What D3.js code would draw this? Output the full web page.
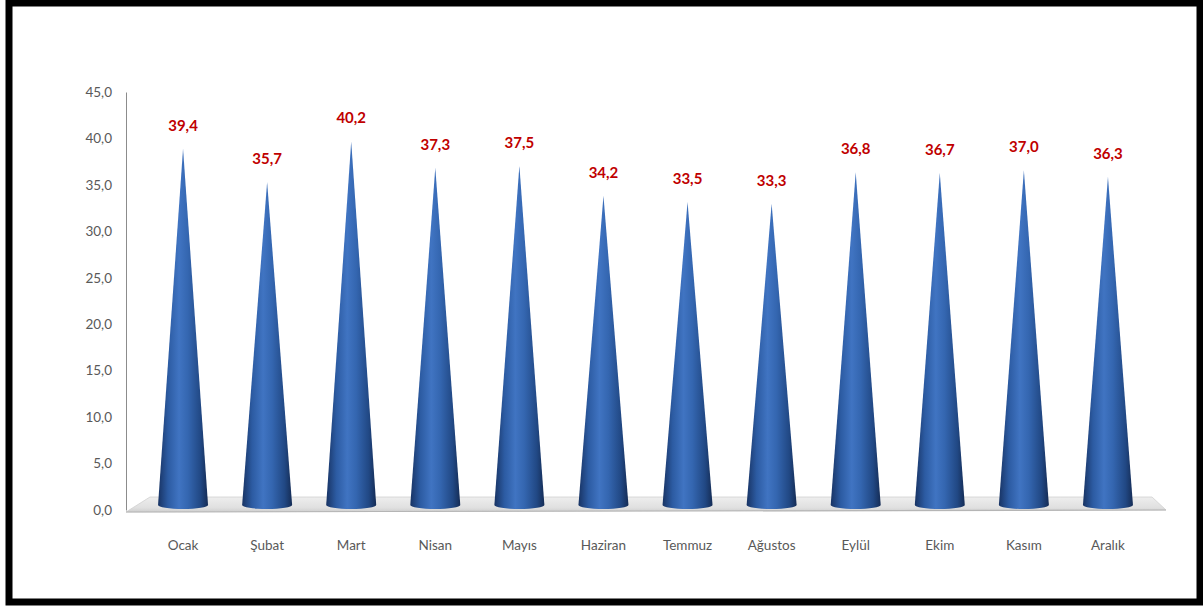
<!DOCTYPE html>
<html><head><meta charset="utf-8">
<script src="https://cdn.jsdelivr.net/npm/d3@7"></script>
<style>body{margin:0;background:#fff}svg{display:block}</style>
</head><body>
<svg id="c" width="1203" height="608"></svg>
<script>
const months = ["Ocak","Şubat","Mart","Nisan","Mayıs","Haziran","Temmuz","Ağustos","Eylül","Ekim","Kasım","Aralık"];
const values = [39.4,35.7,40.2,37.3,37.5,34.2,33.5,33.3,36.8,36.7,37.0,36.3];
const yTicks = [0,5,10,15,20,25,30,35,40,45];

const svg = d3.select("#c");
const fmt = v => d3.format(".1f")(v).replace(".", ",");

// frame
svg.append("rect").attr("x",9).attr("y",3).attr("width",1191).attr("height",599)
  .attr("fill","#fff").attr("stroke","#000").attr("stroke-width",7);

const y = d3.scaleLinear().domain([0,45]).range([510,92]);
const yCone = d3.scaleLinear().domain([0,45]).range([505,98]);
const x = d3.scaleBand().domain(months).range([141,1150]).padding(0);

const defs = svg.append("defs");
const g = defs.append("linearGradient").attr("id","cone").attr("x1","0").attr("x2","1").attr("y1","0").attr("y2","0");
[[0,"#183363"],[0.2,"#2c5ba2"],[0.42,"#4074c2"],[0.6,"#3466b0"],[0.85,"#214884"],[1,"#152c55"]]
  .forEach(([o,c])=>g.append("stop").attr("offset",o).attr("stop-color",c));
const fg = defs.append("linearGradient").attr("id","floor").attr("x1","0").attr("x2","0").attr("y1","0").attr("y2","1");
[[0,"#eeeeee"],[0.7,"#e0e0e0"],[1,"#cfcfcf"]].forEach(([o,c])=>fg.append("stop").attr("offset",o).attr("stop-color",c));

// floor
const fr = x.range()[1]+2;
svg.append("path")
  .attr("d",`M126,${y(0)+2} L150,${y(0)-13} L${fr},${y(0)-13} L1166,${y(0)} Z`)
  .attr("fill","url(#floor)").attr("stroke","#d0d0d0").attr("stroke-width",0.8);
svg.append("line").attr("x1",126).attr("x2",1166).attr("y1",y(0)+2).attr("y2",y(0))
  .attr("stroke","#b5b5b5").attr("stroke-width",1.2);

// y axis
const ax = svg.append("g").attr("transform","translate(126,0)")
  .call(d3.axisLeft(y).tickValues(yTicks).tickFormat(fmt).tickSize(0).tickPadding(14));
ax.select(".domain").attr("stroke","#8c8c8c");
ax.selectAll("text").attr("font-family","Lato, 'Open Sans', sans-serif").attr("font-size",13.5).attr("fill","#595959");

// cones
const hw = 25;
svg.selectAll(".cone").data(months).join("path")
  .attr("class","cone")
  .attr("d",(m,i)=>{
    const cx = x(m)+x.bandwidth()/2, b = yCone(0), t = yCone(values[i]);
    return `M${cx-hw},${b} L${cx},${t} L${cx+hw},${b} A${hw},4 0 0 1 ${cx-hw},${b} Z`;
  })
  .attr("fill","url(#cone)");

// value labels
svg.selectAll(".val").data(months).join("text")
  .attr("class","val")
  .attr("x",m=>x(m)+x.bandwidth()/2)
  .attr("y",(m,i)=>yCone(values[i])-18)
  .attr("text-anchor","middle")
  .attr("font-family","Lato, 'Open Sans', sans-serif").attr("font-weight","bold")
  .attr("font-size",15).attr("fill","#c00000")
  .text((m,i)=>fmt(values[i]));

// category labels
svg.selectAll(".cat").data(months).join("text")
  .attr("class","cat")
  .attr("x",m=>x(m)+x.bandwidth()/2)
  .attr("y",550)
  .attr("text-anchor","middle")
  .attr("font-family","Lato, 'Open Sans', sans-serif")
  .attr("font-size",13.5).attr("fill","#595959")
  .text(m=>m);
</script>
</body></html>
